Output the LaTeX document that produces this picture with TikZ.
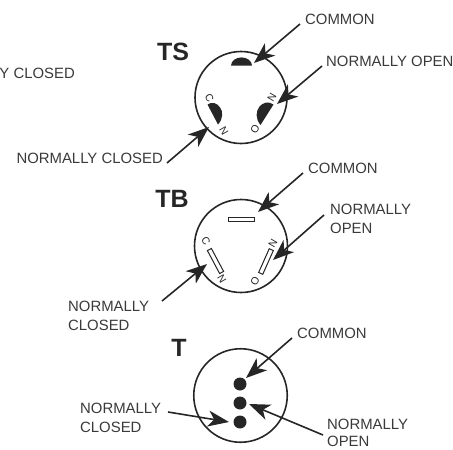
\documentclass[tikz,border=0pt]{standalone}
\usepackage{fontspec}
\setmainfont{Liberation Sans}
\usetikzlibrary{arrows.meta}
\definecolor{ink}{HTML}{262626}
\definecolor{txt}{HTML}{3A3A3A}
\tikzset{
  x=1pt,y=-1pt,
  lab/.style={text=txt,font=\fontsize{14.9}{19}\selectfont,inner sep=0pt,anchor=west,align=left},
  labt/.style={text=txt,font=\fontsize{14.9}{17.5}\selectfont,inner sep=0pt,anchor=west,align=left},
  ttl/.style={text=ink,font=\fontsize{25}{26}\selectfont\bfseries,inner sep=0pt},
  pinl/.style={text=ink,font=\fontsize{10.5}{11}\selectfont,inner sep=0pt},
  body/.style={draw=ink,line width=1.6pt},
  pinf/.style={fill=ink,draw=none},
  pino/.style={draw=ink,fill=white,line width=1pt},
  arr/.style={draw=ink,line width=1.6pt,-{Stealth[length=21pt,width=16pt,inset=6pt]}},
}
\begin{document}
\begin{tikzpicture}
\useasboundingbox (0,0) rectangle (453,450);
% clipped label on the left
\node[lab,anchor=east] (frag) at (75,73) {Y CLOSED};
%% TS
\node[ttl] (ts) at (173,52) {TS};
\node[body,circle,minimum size=92pt,inner sep=0pt] (tsb) at (241,97.5) {};
\fill[pinf] (231,65.7) -- (252,65.7) arc[start angle=0,end angle=180,x radius=10.5,y radius=-8.3] -- cycle;
\fill[pinf] (207.5,104.5) .. controls (216,98) and (229,112) .. (218,124.5) -- cycle;
\fill[pinf] (273.5,104.5) .. controls (263,97) and (250,112) .. (260.5,125) -- cycle;
\node[pinl,rotate=-60] (tsc) at (209.5,97.5) {C};
\node[pinl,rotate=-60] (tsn1) at (224,131) {N};
\node[pinl,rotate=60] (tsn2) at (272,97) {N};
\node[pinl,rotate=60] (tso) at (255,129.5) {O};
\node[lab] (tsl1) at (305,19) {COMMON};
\node[lab] (tsl2) at (326,61) {NORMALLY OPEN};
\node[lab,anchor=east] (tsl3) at (163,158) {NORMALLY CLOSED};
\coordinate (a1) at (300,24); \coordinate (t1) at (254,63);
\coordinate (a2) at (322,66); \coordinate (t2) at (277,104);
\coordinate (a3) at (167,163); \coordinate (t3) at (209,127);
\draw[arr] (a1) -- (t1);
\draw[arr] (a2) -- (t2);
\draw[arr] (a3) -- (t3);
%% TB
\node[ttl] (tb) at (172,199) {TB};
\node[body,circle,minimum size=93pt,inner sep=0pt] (tbb) at (241,246) {};
\node[pino,minimum width=26pt,minimum height=4.5pt,inner sep=0pt] (tbp1) at (241,219.5) {};
\node[pino,minimum width=26pt,minimum height=4.5pt,inner sep=0pt,rotate=-62] (tbp2) at (215.5,261) {};
\node[pino,minimum width=26pt,minimum height=4.5pt,inner sep=0pt,rotate=66] (tbp3) at (266,261.5) {};
\node[pinl,rotate=-60] (tbc) at (206,241) {C};
\node[pinl,rotate=-60] (tbn1) at (222,279) {N};
\node[pinl,rotate=60] (tbn2) at (273,243) {N};
\node[pinl,rotate=60] (tbo) at (255,281) {O};
\node[lab] (tbl1) at (308,168) {COMMON};
\node[lab] (tbl2) at (330,218.5) {NORMALLY\\OPEN};
\node[lab] (tbl3) at (68,316) {NORMALLY\\CLOSED};
\coordinate (b1) at (303,173); \coordinate (u1) at (258,212);
\coordinate (b2) at (324,215); \coordinate (u2) at (273,260);
\coordinate (b3) at (162,301); \coordinate (u3) at (207,264);
\draw[arr] (b1) -- (u1);
\draw[arr] (b2) -- (u2);
\draw[arr] (b3) -- (u3);
%% T
\node[ttl] (tt) at (179,348) {T};
\node[body,circle,minimum size=93.5pt,inner sep=0pt] (tcb) at (240.5,395.5) {};
\fill[pinf] (240,384) circle[radius=6.5];
\fill[pinf] (240,403) circle[radius=6.5];
\fill[pinf] (240,422) circle[radius=6.5];
\node[lab] (tl1) at (297,333) {COMMON};
\node[labt] (tl2) at (327,433) {NORMALLY\\OPEN};
\node[lab] (tl3) at (80,418) {NORMALLY\\CLOSED};
\coordinate (c1) at (292,338); \coordinate (v1) at (246,378);
\coordinate (c2) at (323,435); \coordinate (v2) at (249,404);
\coordinate (c3) at (168,412); \coordinate (v3) at (229,422);
\draw[arr] (c1) -- (v1);
\draw[arr] (c2) -- (v2);
\draw[arr] (c3) -- (v3);
\end{tikzpicture}
\end{document}
